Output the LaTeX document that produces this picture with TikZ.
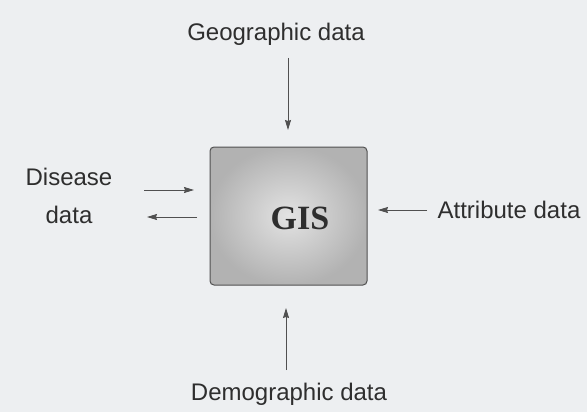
\documentclass[tikz,border=0pt]{standalone}
\usepackage{fontspec}
\setmainfont{Liberation Sans}
\newfontfamily\gisfont{Liberation Serif}
\usetikzlibrary{arrows.meta}
\definecolor{bgc}{HTML}{EDEFF1}
\definecolor{linec}{HTML}{505050}
\definecolor{txtc}{HTML}{2E2E2E}
\tikzset{
  lbl/.style={font=\fontsize{24}{27}\selectfont, text=txtc, inner sep=0pt, align=center},
  arr/.style={draw=linec, line width=0.9pt, -{Stealth[length=10pt,width=6pt,inset=1pt]}},
}
\begin{document}
\begin{tikzpicture}[x=1pt,y=-1pt]
\fill[bgc] (0,0) rectangle (587,412);
\useasboundingbox (0,0) rectangle (587,412);
\node[draw=linec, line width=1pt, rounded corners=4pt, minimum width=157pt, minimum height=138pt,
      inner color=gray!22, outer color=gray!60, inner sep=0pt] (gis) at (288.5,216) {};
\node[font=\gisfont\bfseries\fontsize{34}{36}\selectfont, text=txtc, inner sep=0pt] (gist) at (300,218) {GIS};
\node[lbl] (geo) at (276,34) {Geographic data};
\node[lbl] (dem) at (289,394) {Demographic data};
\node[lbl] (att) at (509,210) {Attribute data};
\node[lbl, font=\fontsize{24}{38}\selectfont] (dis) at (69,196) {Disease\\data};
\coordinate (g1) at (288,58);
\coordinate (g2) at (288,130);
\coordinate (d1) at (286,370);
\coordinate (d2) at (286,308);
\coordinate (a1) at (427,210);
\coordinate (a2) at (378,210);
\coordinate (r1) at (144,190);
\coordinate (r2) at (194,190);
\coordinate (l1) at (197,217);
\coordinate (l2) at (147,217);
\draw[arr] (g1) -- (g2);
\draw[arr] (d1) -- (d2);
\draw[arr] (a1) -- (a2);
\draw[arr] (r1) -- (r2);
\draw[arr] (l1) -- (l2);
\end{tikzpicture}
\end{document}
